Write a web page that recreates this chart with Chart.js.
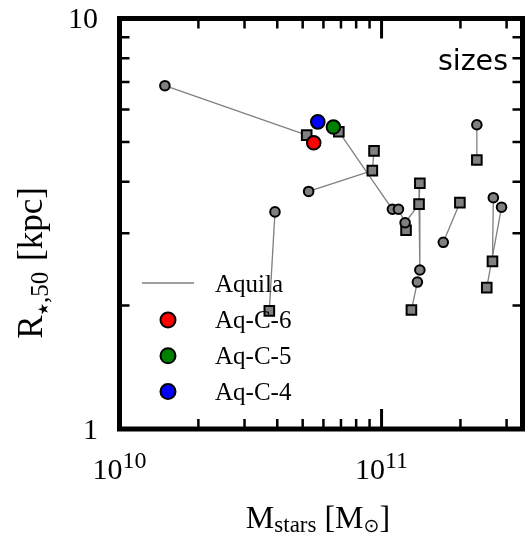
<!DOCTYPE html>
<html>
<head>
<meta charset="utf-8">
<script src="https://cdn.jsdelivr.net/npm/chart.js@4.4.1/dist/chart.umd.min.js"></script>
<style>
  html, body { margin: 0; padding: 0; background: #fff; }
  #wrap { width: 525px; height: 536px; }
</style>
</head>
<body>
<div id="wrap"><canvas id="sizes" width="525" height="536"></canvas></div>
<script>
// Aquila runs, lower resolution (circles) and higher resolution (squares)
const aqCircleM = [1.49e10, 5.27e10, 2.31e11, 2.67e11, 2.87e11, 1.10e11, 1.16e11, 3.92e10, 1.23e11, 1.72e11, 1.40e11, 1.37e11];
const aqCircleR = [6.86, 3.79, 5.51, 3.66, 3.47, 3.43, 3.43, 3.38, 3.18, 2.85, 2.44, 2.28];
const aqSquareM = [5.18e10, 6.87e10, 9.36e10, 9.22e10, 2.31e11, 1.40e11, 1.39e11, 1.99e11, 3.73e10, 1.24e11, 1.30e11, 2.65e11, 2.52e11];
const aqSquareR = [5.20, 5.30, 4.76, 4.26, 4.52, 3.97, 3.53, 3.56, 1.94, 3.05, 1.95, 2.56, 2.21];
// which points are joined by the thin grey lines
const aqLinks = [
  ["c", 0, "s", 0], ["s", 1, "c", 5], ["c", 1, "s", 3], ["s", 2, "s", 3],
  ["c", 2, "s", 4], ["c", 3, "s", 11], ["c", 4, "s", 12], ["c", 7, "s", 8],
  ["c", 6, "c", 8], ["c", 8, "s", 9], ["c", 8, "s", 6], ["s", 5, "s", 6],
  ["s", 6, "c", 10], ["c", 11, "s", 10], ["s", 7, "c", 9],
];

const runNames = ["Aq-C-6", "Aq-C-5", "Aq-C-4"];
const runM = [5.51e10, 6.55e10, 5.71e10];
const runR = [4.98, 5.44, 5.60];
const runColors = ["#ff0000", "#008000", "#0000ff"];

const xMajor = [1e10, 1e11];
const xMajorExp = ["10", "11"];
const xMinor = [2e10, 3e10, 4e10, 5e10, 6e10, 7e10, 8e10, 9e10, 2e11, 3e11];
const yMajor = [1, 10];
const yMajorLabels = ["1", "10"];
const yMinor = [2, 3, 4, 5, 6, 7, 8, 9];

const SERIF = "'Liberation Serif', 'DejaVu Serif', serif";
const SYM = "'DejaVu Sans', 'Liberation Serif', serif";
const GREY = "#808080";

function pt(kind, i) {
  return kind === "c" ? { x: aqCircleM[i], y: aqCircleR[i] } : { x: aqSquareM[i], y: aqSquareR[i] };
}

function zip(xs, ys) {
  return xs.map((x, i) => ({ x, y: ys[i] }));
}

// text pieces drawn one after another, each with its own size and baseline shift
function runWidth(ctx, parts) {
  let w = 0;
  parts.forEach((p) => {
    ctx.font = `${p.size}px ${p.font || SERIF}`;
    w += ctx.measureText(p.t).width + (p.gap || 0);
  });
  return w;
}
function drawRun(ctx, parts, x, y) {
  parts.forEach((p) => {
    ctx.font = `${p.size}px ${p.font || SERIF}`;
    ctx.fillText(p.t, x, y + (p.dy || 0));
    x += ctx.measureText(p.t).width + (p.gap || 0);
  });
}

const framePlugin = {
  id: "frame",
  afterDraw(chart) {
    const { ctx, chartArea: a, scales } = chart;
    const xs = scales.x, ys = scales.y;
    ctx.save();
    ctx.strokeStyle = "#000";
    ctx.fillStyle = "#000";

    // ticks, pointing inwards on all four sides
    const tick = (vals, len, lw) => {
      ctx.lineWidth = lw;
      ctx.beginPath();
      vals.forEach((v) => {
        const px = xs.getPixelForValue(v);
        ctx.moveTo(px, a.bottom); ctx.lineTo(px, a.bottom - len);
        ctx.moveTo(px, a.top); ctx.lineTo(px, a.top + len);
      });
      ctx.stroke();
    };
    const ytick = (vals, len, lw) => {
      ctx.lineWidth = lw;
      ctx.beginPath();
      vals.forEach((v) => {
        const py = ys.getPixelForValue(v);
        ctx.moveTo(a.left, py); ctx.lineTo(a.left + len, py);
        ctx.moveTo(a.right, py); ctx.lineTo(a.right - len, py);
      });
      ctx.stroke();
    };
    tick(xMinor, 10, 2.5);
    tick(xMajor, 20, 3);
    ytick(yMinor, 10, 2.5);
    ytick(yMajor, 20, 3);

    ctx.lineWidth = 5;
    ctx.lineJoin = "miter";
    ctx.strokeRect(a.left, a.top, a.right - a.left, a.bottom - a.top);

    // tick labels
    ctx.textBaseline = "alphabetic";
    ctx.textAlign = "left";
    xMajor.forEach((v, i) => {
      const parts = [{ t: "10", size: 30 }, { t: xMajorExp[i], size: 24, dy: -11 }];
      const w = runWidth(ctx, parts);
      drawRun(ctx, parts, xs.getPixelForValue(v) - w / 2, 479);
    });
    ctx.textAlign = "right";
    ctx.textBaseline = "middle";
    ctx.font = `30px ${SERIF}`;
    yMajor.forEach((v, i) => {
      ctx.fillText(yMajorLabels[i], 98, ys.getPixelForValue(v) + 2);
    });

    // axis titles
    ctx.textAlign = "left";
    ctx.textBaseline = "alphabetic";
    const xt = [
      { t: "M", size: 32 }, { t: "stars", size: 23, dy: 4 }, { t: " [", size: 32 },
      { t: "M", size: 32 }, { t: "\u2299", size: 19, dy: 4, font: SYM }, { t: "]", size: 32 },
    ];
    const xw = runWidth(ctx, xt);
    drawRun(ctx, xt, 318 - xw / 2, 528);

    const yt = [
      { t: "R", size: 35 }, { t: "\u2605", size: 14, dy: 6, font: SYM }, { t: ",50", size: 25, dy: 6, gap: 2 },
      { t: " [kpc]", size: 35 },
    ];
    const yw = runWidth(ctx, yt);
    ctx.save();
    ctx.translate(42, 263);
    ctx.rotate(-Math.PI / 2);
    drawRun(ctx, yt, -yw / 2, 0);
    ctx.restore();

    // panel tag
    ctx.textAlign = "right";
    ctx.font = "28.5px 'DejaVu Sans', sans-serif";
    ctx.fillText("sizes", 508, 70);

    // legend
    ctx.strokeStyle = GREY;
    ctx.lineWidth = 1.5;
    ctx.beginPath();
    ctx.moveTo(142, 283); ctx.lineTo(194, 283);
    ctx.stroke();
    ctx.textAlign = "left";
    ctx.font = `25px ${SERIF}`;
    ctx.fillStyle = "#000";
    ctx.fillText("Aquila", 215, 292);
    runNames.forEach((n, i) => {
      const cy = 320 + i * 35.8;
      ctx.beginPath();
      ctx.arc(168, cy, 7.5, 0, Math.PI * 2);
      ctx.fillStyle = runColors[i];
      ctx.fill();
      ctx.lineWidth = 2;
      ctx.strokeStyle = "#000";
      ctx.stroke();
      ctx.fillStyle = "#000";
      ctx.fillText(n, 215, cy + 8.3);
    });
    ctx.restore();
  },
};

const linkSets = aqLinks.map(([k1, i1, k2, i2]) => ({
  type: "line",
  data: [pt(k1, i1), pt(k2, i2)],
  borderColor: GREY,
  borderWidth: 1.3,
  pointRadius: 0,
  fill: false,
  order: 10,
}));

const markerBase = {
  borderColor: "#000",
  borderWidth: 2,
  pointHoverRadius: 6,
};

new Chart(document.getElementById("sizes"), {
  type: "scatter",
  data: {
    datasets: [
      ...linkSets,
      { ...markerBase, label: "circles", data: zip(aqCircleM, aqCircleR), pointStyle: "circle", pointRadius: 4.8, backgroundColor: GREY, order: 8 },
      { ...markerBase, label: "squares", data: zip(aqSquareM, aqSquareR), pointStyle: "rect", pointRadius: 6.8, backgroundColor: GREY, order: 9 },
      ...runNames.map((n, i) => ({
        ...markerBase,
        label: n,
        data: [{ x: runM[i], y: runR[i] }],
        pointStyle: "circle",
        pointRadius: 6.8,
        backgroundColor: runColors[i],
        order: 3 - i,
      })),
    ],
  },
  options: {
    responsive: false,
    animation: false,
    devicePixelRatio: 1,
    layout: { autoPadding: false, padding: { left: 119.5, right: 2.5, top: 18.5, bottom: 107 } },
    plugins: { legend: { display: false }, tooltip: { enabled: false } },
    scales: {
      x: { type: "logarithmic", min: 1e10, max: 3.45e11, display: false },
      y: { type: "logarithmic", min: 1, max: 10, display: false },
    },
  },
  plugins: [framePlugin],
});
</script>
</body>
</html>
